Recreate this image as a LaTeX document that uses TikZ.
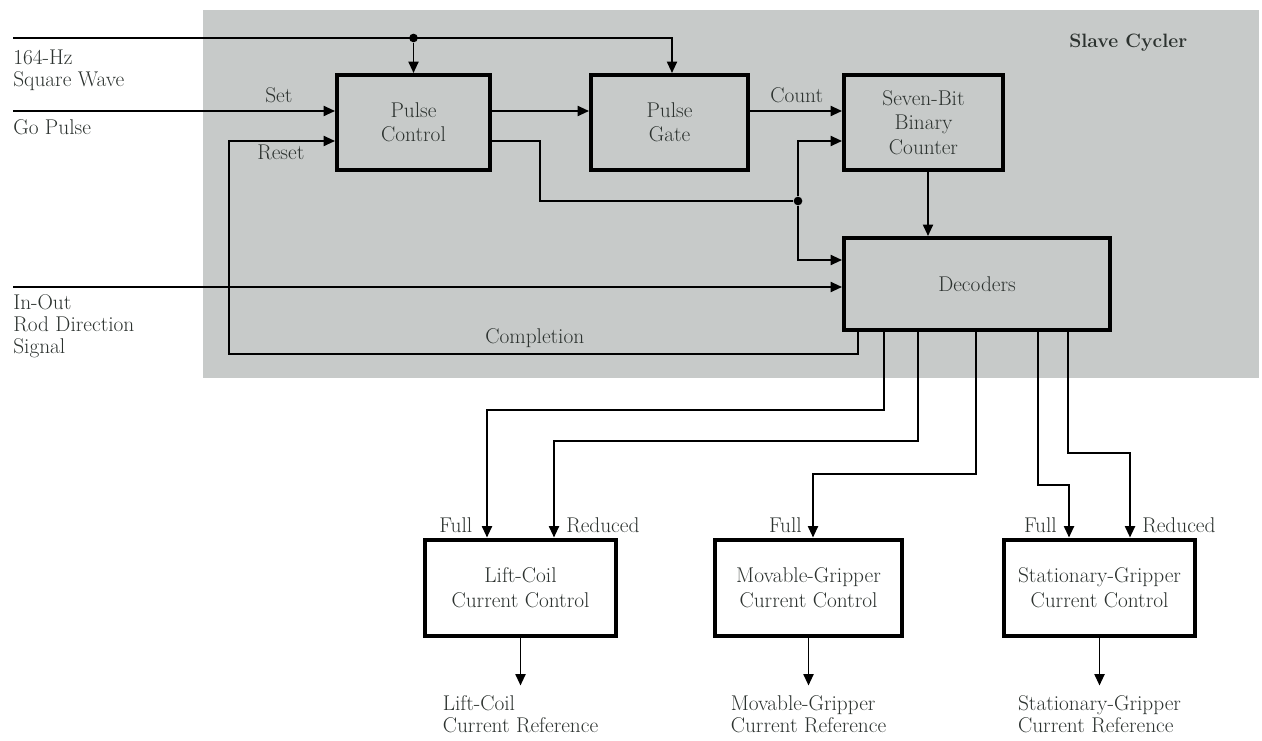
\documentclass[tikz,border=0pt]{standalone}
\usepackage{fontspec}
\usepackage{xcolor}
\usepackage{tikz}
\usetikzlibrary{arrows.meta,positioning,calc}

\definecolor{panel}{RGB}{199,202,201}
\definecolor{ink}{RGB}{44,50,47}

\begin{document}
\begin{tikzpicture}[
  x=0.75pt,y=-0.75pt,
  font=\fontsize{16}{18.4}\selectfont,
  blk/.style={draw,line width=3pt,align=center,inner sep=2pt,text=ink,
              minimum height=71.25pt},
  ln/.style={line width=1.4pt},
  w/.style={ln,-{Triangle[length=8.5pt,width=7.5pt]}},
  t/.style={text=ink,inner sep=0pt},
  tl/.style={t,align=left,font=\fontsize{16}{16.5}\selectfont},
  ref/.style={tl,inner ysep=7.5pt},
  jn/.style={circle,fill,inner sep=0pt,minimum size=6.5pt}]

\useasboundingbox (0,0) rectangle (1262,741);

% shaded slave cycler area
\fill[panel] (203,10) rectangle (1259,378);
\node[t,anchor=base west,font=\fontsize{14.5}{18}\selectfont\bfseries] (title) at (1069,48) {Slave Cycler};

% blocks
\node[blk,minimum width=114.75pt] (pc)  at (413.5,122.5) {Pulse\\Control};
\node[blk,minimum width=117.75pt] (pg)  at (669.5,122.5) {Pulse\\Gate};
\node[blk,minimum width=119.25pt] (cnt) at (923.5,122.5) {Seven-Bit\\Binary\\Counter};
\node[blk,minimum width=199.5pt,minimum height=69pt] (dec) at (977,284) {Decoders};

\node[blk,minimum width=143.25pt,minimum height=72pt] (lc) at (520.5,587.5) {Lift-Coil\\Current Control};
\node[blk,minimum width=140.25pt,minimum height=72pt] (mg) at (808.5,587.5) {Movable-Gripper\\Current Control};
\node[blk,minimum width=143.25pt,minimum height=72pt] (sg) at (1099.5,587.5) {Stationary-Gripper\\Current Control};

% inputs
\coordinate (sqin) at (13,38);
\coordinate (goin) at (13,111);
\coordinate (ioin) at (13,287);
\node[tl,anchor=north west] (sqtxt) at (13,49.5) {164-Hz\\Square Wave};
\node[t,anchor=base west] (gotxt) at (13,135) {Go Pulse};
\node[tl,anchor=north west] (iotxt) at (13,294) {In-Out\\Rod Direction\\Signal};

\node[jn] (j1) at (sqin -| pc.north) {};
\draw[w] (sqin) -| ($(pg.north)+(2.5,0)$);
\draw[w] (j1) -- (pc.north);
\draw[w] (goin) -- (goin -| pc.west);
\node[t,anchor=base west] (set) at (265,103) {Set};
\draw[w] (ioin) -- (ioin -| dec.west);

% pulse control / gate / counter
\draw[w] (goin -| pc.east) -- (goin -| pg.west);
\draw[w] (goin -| pg.east) -- (goin -| cnt.west);
\node[t,anchor=base west] (count) at (770,103) {Count};

\node[jn] (j2) at (798,201) {};
\draw[ln] ($(pc.east)+(0,18.5)$) -- ++(48,0) |- (j2);
\draw[w] (j2) |- ($(cnt.west)+(0,18.5)$);
\draw[w] (j2) |- ($(dec.west)+(0,-24)$);
\draw[w] ($(cnt.south)+(4.5,0)$) coordinate (c1) -- (c1 |- dec.north);

% completion back to reset
\draw[w] ($(dec.south)+(-119,0)$) -- ++(0,22) -- ++(-629,0) |- ($(pc.west)+(0,18.5)$);
\node[t,anchor=base west] (reset) at (257,160) {Reset};
\node[t,anchor=base west] (compl) at (485,344) {Completion};

% decoder outputs
\foreach \dx/\dy/\b/\bx in {-93/78/lc/-33.5,-59/109/lc/33.5,-1/142/mg/4.5,61/153/sg/-30.5,91/121/sg/30.5}
  \draw[w] ($(dec.south)+(\dx,0)$) -- ++(0,\dy) -| ($(\b.north)+(\bx,0)$);

\node[t,anchor=base east] (lcf) at ($(lc.north)+(-48,-5.5)$) {Full};
\node[t,anchor=base west] (lcr) at ($(lc.north)+(45.5,-5.5)$) {Reduced};
\node[t,anchor=base east] (mgf) at ($(mg.north)+(-6.5,-5.5)$) {Full};
\node[t,anchor=base east] (sgf) at ($(sg.north)+(-42.5,-5.5)$) {Full};
\node[t,anchor=base west] (sgr) at ($(sg.north)+(42.5,-5.5)$) {Reduced};

% current references
\node[ref,below=36pt of lc] (lcref) {Lift-Coil\\Current Reference};
\node[ref,below=36pt of mg] (mgref) {Movable-Gripper\\Current Reference};
\node[ref,below=36pt of sg] (sgref) {Stationary-Gripper\\Current Reference};
\foreach \n in {lc,mg,sg} { \draw[w] (\n.south) -- (\n ref.north); }
\end{tikzpicture}
\end{document}
